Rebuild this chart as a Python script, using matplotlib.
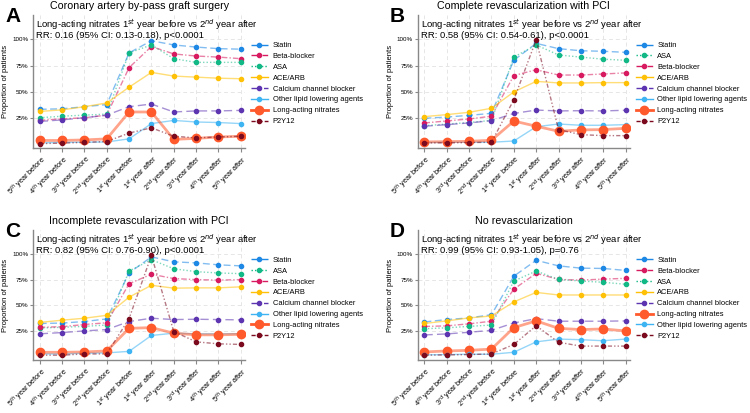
import matplotlib.pyplot as plt
from matplotlib.ticker import PercentFormatter

plt.rcParams['font.family'] = ['Liberation Sans', 'DejaVu Sans']

YEARS = ["5$^{th}$ year before", "4$^{th}$ year before", "3$^{rd}$ year before",
         "2$^{nd}$ year before", "1$^{st}$ year before", "1$^{st}$ year after",
         "2$^{nd}$ year after", "3$^{rd}$ year after", "4$^{th}$ year after",
         "5$^{th}$ year after"]

# A - coronary artery by-pass graft surgery (percent of patients)
a_statin = [33.5, 34, 36, 38, 87, 98.5, 94.5, 92.5, 91, 90.5]
a_beta = [23, 24.5, 25.5, 28, 73, 93, 86, 84, 83, 81.5]
a_asa = [25.5, 27, 28, 29, 87, 94.5, 81.5, 78, 78, 78]
a_ace = [31.5, 33, 36, 39.5, 54.5, 68.5, 65, 64, 63, 62.5]
a_ccb = [22, 23.5, 25.5, 28, 36, 38.5, 31, 32, 32, 32.5]
a_lipid = [1.7, 2.2, 2.3, 2.6, 5.5, 20, 23, 21.5, 21, 20]
a_nitr = [4, 4, 4.5, 5.5, 31, 31, 5, 6, 7.3, 8]
a_p2y12 = [1, 1.5, 2.2, 3, 11, 16, 8, 6.5, 7.3, 8]

# B - complete revascularization with PCI
b_statin = [25, 26.2, 27.8, 29.7, 80, 96, 91, 89, 88.5, 87.5]
b_asa = [18, 19.5, 21, 23, 83, 94.5, 85, 83, 81, 80]
b_beta = [20.6, 22.5, 24.4, 27, 65.5, 71, 66, 66, 67, 68]
b_ace = [26.6, 28.5, 30.7, 34.5, 50, 60, 58.5, 58.5, 58.8, 58.8]
b_ccb = [17.5, 19, 20.6, 22.8, 29.6, 32.8, 32, 32.2, 32, 32.6]
b_lipid = [2, 2.3, 2.3, 2.3, 3.5, 17, 19.6, 18.4, 18.4, 19]
b_nitr = [2.6, 2.9, 3.2, 4.2, 22.4, 17.5, 12.7, 14, 14.3, 15.5]
b_p2y12 = [1.7, 1.7, 2, 2.3, 42.6, 99.4, 14.3, 9.5, 8.6, 8.6]

# C - incomplete revascularization with PCI
c_statin = [32.5, 32.9, 34.4, 36.9, 81.5, 97, 92.2, 91.2, 89.3, 88.3]
c_asa = [28.1, 28.8, 29.7, 31, 83.3, 94.3, 85.5, 82.7, 81.4, 80.8]
c_beta = [28.8, 29.4, 31.5, 33.2, 71, 80.2, 76, 75, 74.5, 75]
c_ace = [33.5, 35.7, 37.6, 40.4, 58, 69.5, 66.7, 67, 67, 68]
c_ccb = [22.5, 23.7, 25.3, 26.6, 34.4, 37.6, 36.3, 36.6, 36.3, 36]
c_lipid = [3, 3, 3.7, 4, 5.5, 20.9, 23.1, 22.5, 22.5, 22.5]
c_nitr = [4.6, 4.6, 4.9, 5.9, 27.8, 28.5, 23.1, 21.5, 21.5, 22]
c_p2y12 = [1.8, 1.8, 3, 3, 37.2, 98.4, 24.7, 14.7, 12.8, 12.2]

# D - no revascularization
d_statin = [34, 36.3, 37.9, 41, 78.3, 93.7, 88.3, 86.1, 85.8, 83.9]
d_beta = [29.6, 30.2, 32.2, 34.7, 65.7, 81.1, 75.2, 74.5, 75.5, 76.2]
d_asa = [27.4, 28.3, 29.7, 31, 73.6, 83.3, 75.2, 73.6, 72.4, 70.5]
d_ace = [32.5, 35, 37.9, 39.8, 53.4, 62.6, 60.1, 60.1, 60.1, 60.1]
d_ccb = [21.4, 22.4, 24, 25.9, 33, 37.2, 34.7, 34.7, 34.7, 35]
d_nitr = [4.9, 5.9, 6.5, 7.7, 28.5, 35, 27.8, 26.6, 27.2, 25.3]
d_lipid = [2.1, 2.4, 2.7, 2.7, 4.6, 14.7, 17.4, 16.8, 15.8, 17.4]
d_p2y12 = [1.8, 2.1, 2.4, 3, 12.2, 30.3, 14.3, 10.6, 10.6, 10.6]

STYLE = {
    "Statin": dict(color="#1E88E5", ls=(0, (5, 2.5)), lw=1.0, ms=3),
    "Beta-blocker": dict(color="#D81B60", ls=(0, (4, 1.5, 1, 1.5)), lw=1.0, ms=3),
    "ASA": dict(color="#12B886", ls=(0, (1, 1.5)), lw=1.0, ms=3),
    "ACE/ARB": dict(color="#FFC107", ls="-", lw=1.0, ms=3),
    "Calcium channel blocker": dict(color="#5E35B1", ls=(0, (6, 3)), lw=1.0, ms=3),
    "Other lipid lowering agents": dict(color="#3FB4F2", ls="-", lw=1.0, ms=3),
    "Long-acting nitrates": dict(color="#FF5A2C", ls="-", lw=2.0, ms=6),
    "P2Y12": dict(color="#7B0A1E", ls=(0, (3, 1.5, 1, 1.5, 1, 1.5)), lw=1.0, ms=3),
}

PANELS = [
    ("A", "Coronary artery by-pass graft surgery", "RR: 0.16 (95% CI: 0.13-0.18), p<0.0001",
     [("Statin", a_statin), ("Beta-blocker", a_beta), ("ASA", a_asa), ("ACE/ARB", a_ace),
      ("Calcium channel blocker", a_ccb), ("Other lipid lowering agents", a_lipid),
      ("Long-acting nitrates", a_nitr), ("P2Y12", a_p2y12)],
     [0.044, 0.642, 0.283, 0.322]),
    ("B", "Complete revascularization with PCI", "RR: 0.58 (95% CI: 0.54-0.61), p<0.0001",
     [("Statin", b_statin), ("ASA", b_asa), ("Beta-blocker", b_beta), ("ACE/ARB", b_ace),
      ("Calcium channel blocker", b_ccb), ("Other lipid lowering agents", b_lipid),
      ("Long-acting nitrates", b_nitr), ("P2Y12", b_p2y12)],
     [0.557, 0.642, 0.283, 0.322]),
    ("C", "Incomplete revascularization with PCI", "RR: 0.82 (95% CI: 0.76-0.90), p<0.0001",
     [("Statin", c_statin), ("ASA", c_asa), ("Beta-blocker", c_beta), ("ACE/ARB", c_ace),
      ("Calcium channel blocker", c_ccb), ("Other lipid lowering agents", c_lipid),
      ("Long-acting nitrates", c_nitr), ("P2Y12", c_p2y12)],
     [0.044, 0.128, 0.283, 0.315]),
    ("D", "No revascularization", "RR: 0.99 (95% CI: 0.93-1.05), p=0.76",
     [("Statin", d_statin), ("Beta-blocker", d_beta), ("ASA", d_asa), ("ACE/ARB", d_ace),
      ("Calcium channel blocker", d_ccb), ("Long-acting nitrates", d_nitr),
      ("Other lipid lowering agents", d_lipid), ("P2Y12", d_p2y12)],
     [0.557, 0.128, 0.283, 0.315]),
]

fig = plt.figure(figsize=(7.5, 4.13), dpi=100)

for letter, title, rr, series, pos in PANELS:
    ax = fig.add_axes(pos)
    x = range(len(YEARS))
    for name, vals in series:
        st = STYLE[name]
        y = [v / 100 for v in vals]
        ax.plot(x, y, color=st["color"], ls=st["ls"], lw=st["lw"], alpha=0.55)
        ax.plot(x, y, color=st["color"], ls="none", marker="o", ms=st["ms"])
        ax.plot([], [], color=st["color"], ls=st["ls"], lw=st["lw"], marker="o",
                ms=st["ms"], label=name)
    ax.set_xlim(-0.3, 9.2)
    ax.set_ylim(-0.03, 1.23)
    ax.set_xticks(list(x))
    ax.set_xticklabels(YEARS, rotation=45, ha="right", rotation_mode="anchor", fontsize=5.2)
    ax.set_yticks([0.25, 0.5, 0.75, 1.0])
    ax.yaxis.set_major_formatter(PercentFormatter(1.0, decimals=0))
    ax.tick_params(axis="y", labelsize=4.5, length=2, color="#888888", pad=1.5)
    ax.tick_params(axis="x", length=3, color="#888888", pad=1)
    ax.grid(True, ls=(0, (4, 3)), color="#e6e6e6", lw=0.7)
    ax.set_axisbelow(True)
    for s in ["top", "right"]:
        ax.spines[s].set_visible(False)
    for s in ["left", "bottom"]:
        ax.spines[s].set_color("#888888")
        ax.spines[s].set_linewidth(1.0)
    ax.set_ylabel("Proportion of patients", fontsize=5.5, labelpad=2)
    ax.set_title(title, fontsize=7.7, pad=4)
    ax.text(0.015, 0.985, "Long-acting nitrates 1$^{st}$ year before vs 2$^{nd}$ year after\n" + rr,
            transform=ax.transAxes, fontsize=6.8, va="top", ha="left", linespacing=0.9)
    ax.legend(loc="upper left", bbox_to_anchor=(1.005, 0.83), frameon=False, fontsize=5.4,
              handlelength=2.3, labelspacing=0.48, borderaxespad=0.2, handletextpad=0.6)
    bb = ax.get_position()
    fig.text(bb.x0 - 0.037, bb.y1 + 0.02, letter, fontsize=15, fontweight="bold",
             va="top", ha="left")

fig.savefig("out.png", dpi=100)
